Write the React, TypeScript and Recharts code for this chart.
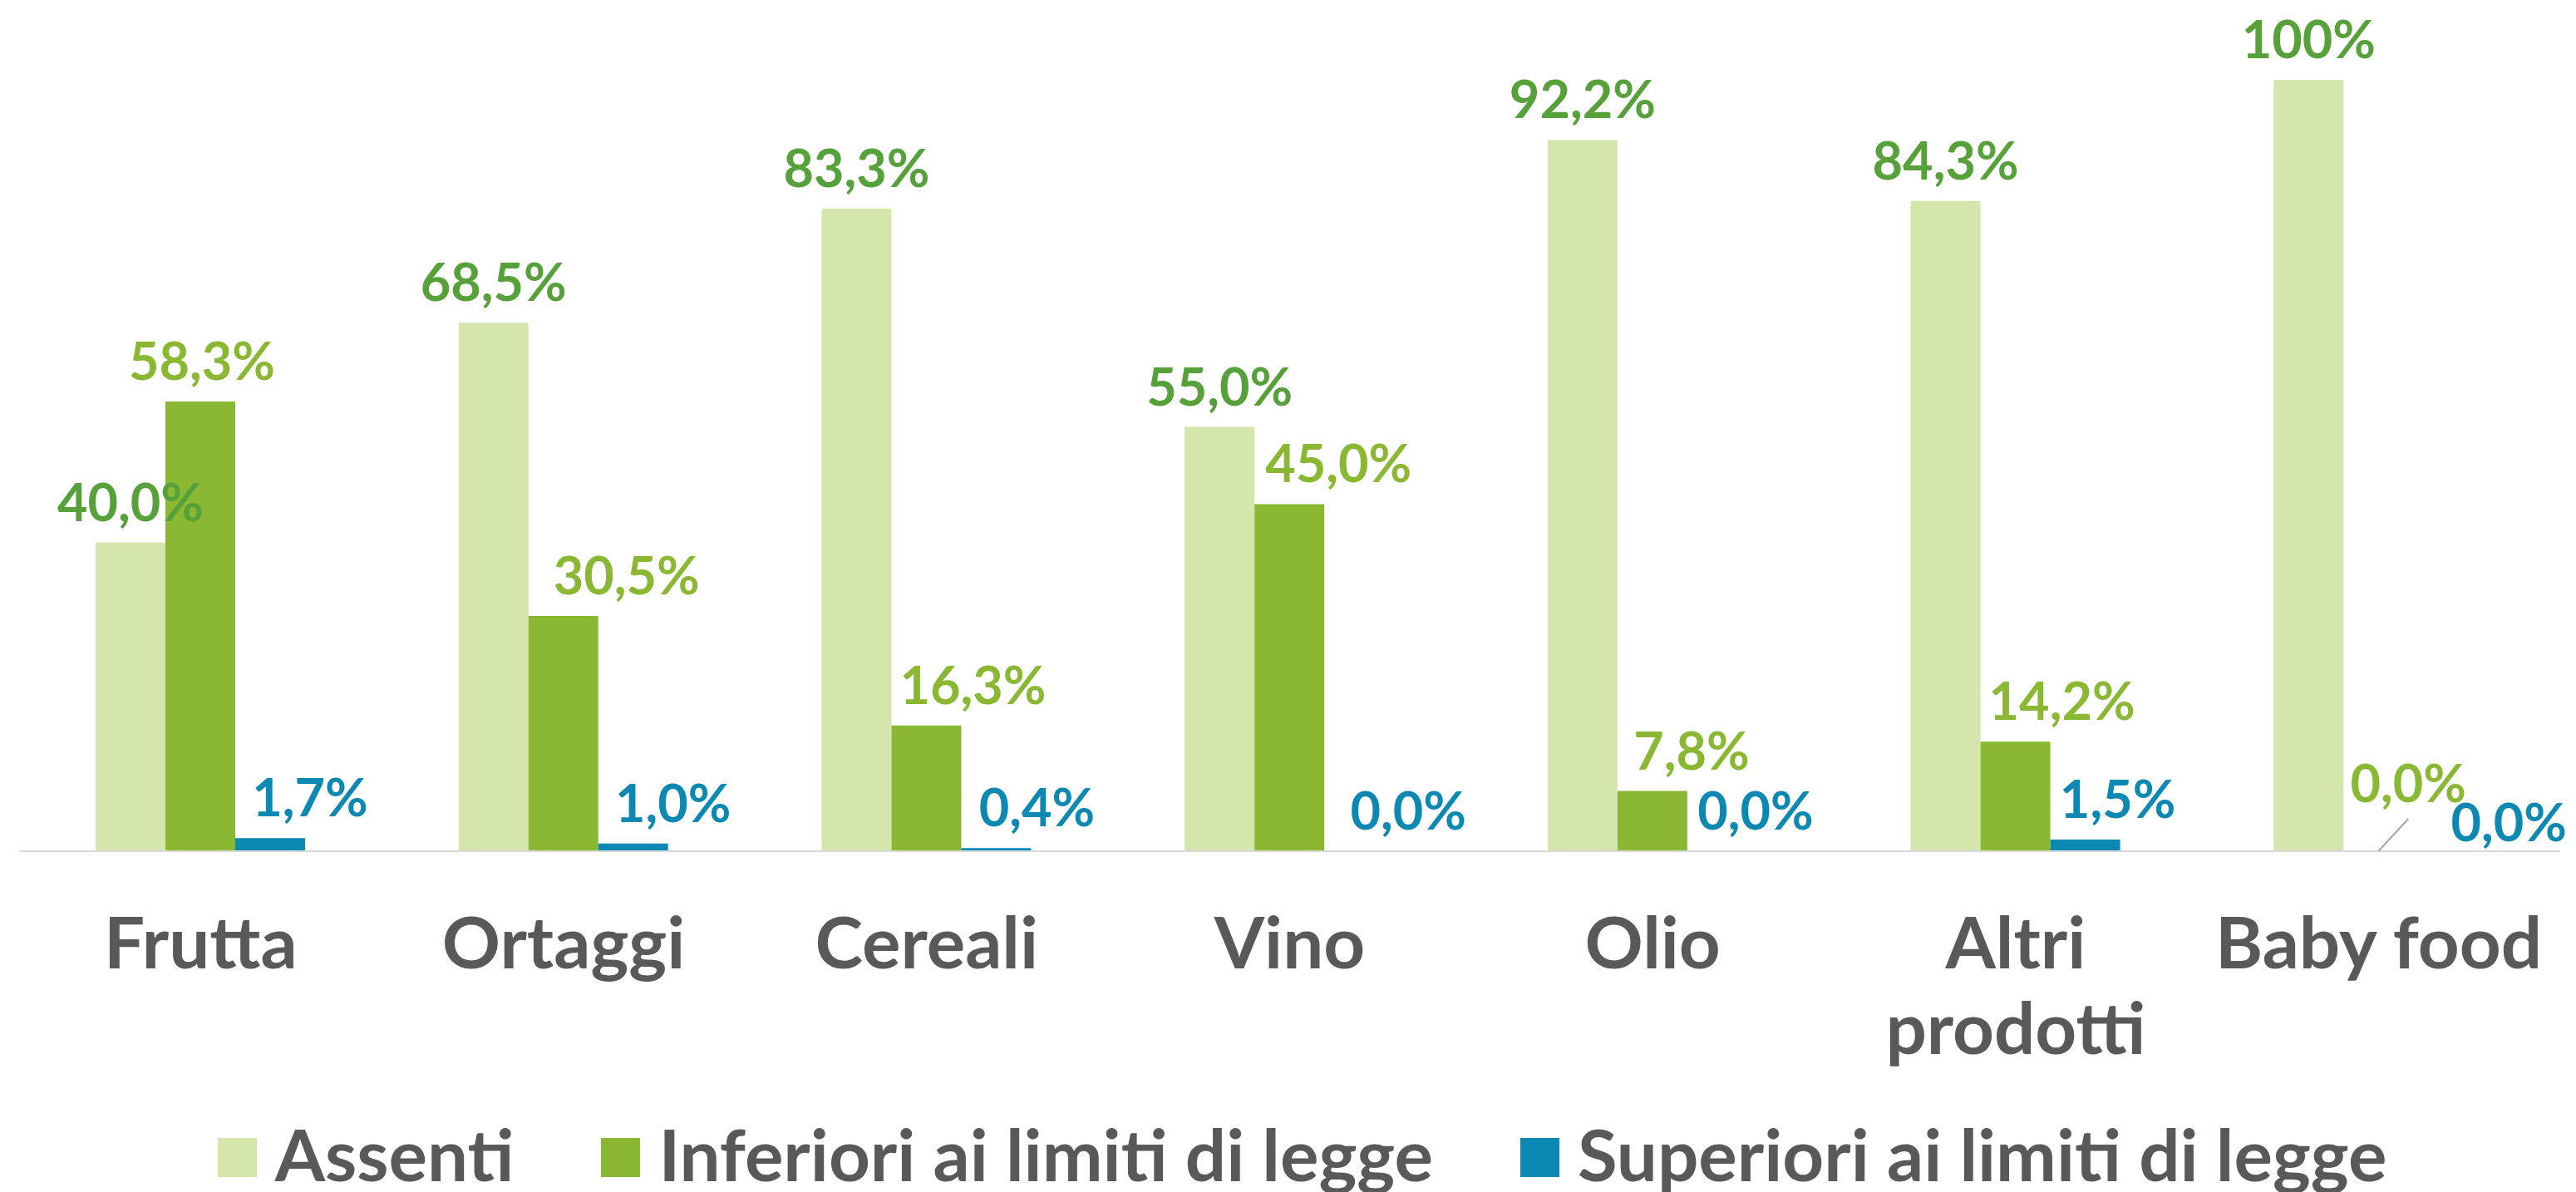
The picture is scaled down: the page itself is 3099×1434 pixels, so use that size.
import { BarChart, Bar, XAxis, YAxis, Legend, LabelList } from 'recharts';

const categories = ['Frutta', 'Ortaggi', 'Cereali', 'Vino', 'Olio', 'Altri prodotti', 'Baby food'];
const assenti = [40.0, 68.5, 83.3, 55.0, 92.2, 84.3, 100];
const inferiori = [58.3, 30.5, 16.3, 45.0, 7.8, 14.2, 0.0];
const superiori = [1.7, 1.0, 0.4, 0.0, 0.0, 1.5, 0.0];

// label nudges (dx, dy) per category, the way they were placed in the original
const inferioriShift: [number, number][] = [[2, 0], [76, 0], [56, 0], [59, 0], [47, 0], [56, 0], [36, -33]];
const superioriShift: [number, number][] = [[48, 0], [48, 0], [49, 0], [59, 0], [40, 0], [39, 0], [73, 14]];

const FONT = 'Lato, "Open Sans", sans-serif';
const GREY = '#595959';

const series = [
    { key: 'assenti', name: 'Assenti', fill: '#d5e6ad', labelColor: '#56a13a', shift: null },
    { key: 'inferiori', name: 'Inferiori ai limiti di legge', fill: '#8bb833', labelColor: '#8bb833', shift: inferioriShift },
    { key: 'superiori', name: 'Superiori ai limiti di legge', fill: '#0b89b3', labelColor: '#0b89b3', shift: superioriShift },
];

const data = categories.map((name, i) => ({
    name,
    assenti: assenti[i],
    inferiori: inferiori[i],
    superiori: superiori[i],
}));

function formatPct(v: number): string {
    if (v >= 100) return '100%';
    return v.toFixed(1).replace('.', ',') + '%';
}

function makeLabel(color: string, shift: [number, number][] | null) {
    return (props: any) => {
        const { x, y, width, height, value, index } = props;
        const cx = Number(x) + Number(width) / 2;
        // top edge of the bar, whatever way round recharts hands the rect over
        const top = Math.min(Number(y), Number(y) + Number(height || 0));
        const [dx, dy] = shift ? shift[index] : [0, 0];
        const leader = shift && dy < -20;
        return (
            <g>
                {leader && (
                    <line x1={cx} y1={top} x2={cx + dx} y2={top - 39} stroke="#a6a6a6" strokeWidth={2} />
                )}
                <text
                    x={cx + dx}
                    y={top - 26 + dy}
                    textAnchor="middle"
                    fontFamily={FONT}
                    fontWeight={700}
                    fontSize={63}
                    fill={color}
                >
                    {formatPct(Number(value))}
                </text>
            </g>
        );
    };
}

function CategoryTick(props: any) {
    const { x, y, payload } = props;
    const name: string = payload.value;
    const lines = name.length > 10 ? name.split(' ') : [name];
    return (
        <text
            x={x}
            y={y + 141}
            textAnchor="middle"
            fontFamily={FONT}
            fontWeight={700}
            fontSize={87}
            fill={GREY}
        >
            {lines.map((line, i) => (
                <tspan key={line} x={x} dy={i === 0 ? 0 : 103}>
                    {line}
                </tspan>
            ))}
        </text>
    );
}

function LegendRow() {
    return (
        <div
            style={{
                height: 100,
                display: 'flex',
                justifyContent: 'center',
                alignItems: 'flex-start',
                paddingLeft: 30,
                fontFamily: FONT,
                fontWeight: 700,
                fontSize: 87,
                color: GREY,
            }}
        >
            {series.map((s, i) => (
                <div
                    key={s.key}
                    style={{ display: 'flex', alignItems: 'flex-start', marginLeft: i === 0 ? 0 : 105 }}
                >
                    <div style={{ width: 47, height: 47, marginTop: 35, background: s.fill, marginRight: 22 }} />
                    <div style={{ lineHeight: '100px', marginTop: 4, whiteSpace: 'nowrap' }}>{s.name}</div>
                </div>
            ))}
        </div>
    );
}

export default function App() {
    return (
        <div style={{ position: 'absolute', left: 0, top: 0, width: 3099, height: 1434, background: '#fff' }}>
            <BarChart
                width={3099}
                height={1434}
                data={data}
                margin={{ top: 96, right: 19, left: 23, bottom: 0 }}
                barGap={0}
                barSize={84}
            >
                <XAxis
                    dataKey="name"
                    axisLine={{ stroke: '#d9d9d9', strokeWidth: 2 }}
                    tickLine={false}
                    tickSize={0}
                    tickMargin={0}
                    interval={0}
                    height={310}
                    tick={(p: any) => <CategoryTick {...p} />}
                />
                <YAxis hide domain={[0, 100]} />
                <Legend verticalAlign="bottom" content={() => <LegendRow />} wrapperStyle={{ padding: 0 }} />
                {series.map((s) => (
                    <Bar
                        key={s.key}
                        dataKey={s.key}
                        name={s.name}
                        fill={s.fill}
                        minPointSize={0.01}
                        isAnimationActive={false}
                    >
                        <LabelList dataKey={s.key} content={makeLabel(s.labelColor, s.shift)} />
                    </Bar>
                ))}
            </BarChart>
        </div>
    );
}
